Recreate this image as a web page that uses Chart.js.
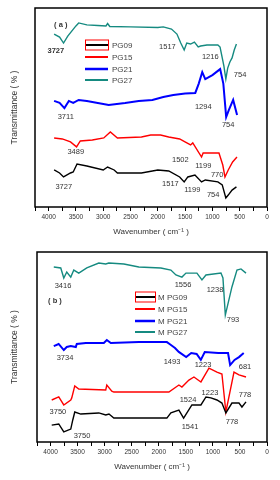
<!DOCTYPE html>
<html>
<head>
<meta charset="utf-8">
<script src="https://cdn.jsdelivr.net/npm/chart.js@4/dist/chart.umd.min.js"></script>
<style>
  body { margin: 0; background: #fff; width: 280px; height: 480px; overflow: hidden; }
  canvas { position: absolute; left: 0; }
  #top { top: 0; }
  #bot { top: 240px; }
</style>
</head>
<body>
<canvas id="top" width="280" height="240"></canvas>
<canvas id="bot" width="280" height="240"></canvas>
<script>
// spectra: [wavenumber, transmittance (offset, arbitrary %)]
var PG09 = [[3900,18.6],[3800,17.1],[3727,15.1],[3600,17.1],[3550,17.6],[3480,21.6],[3300,20.6],[3000,18.6],[2920,20.1],[2800,18.6],[2740,17.1],[2300,17.1],[2000,18.6],[1800,18.1],[1600,15.1],[1517,12.6],[1450,15.1],[1320,16.1],[1199,12.6],[1130,13.6],[900,12.6],[820,11.1],[754,4.5],[710,6.0],[640,8.5],[560,10.1]];
var PG15 = [[3900,34.7],[3750,34.2],[3600,32.7],[3489,30.2],[3420,33.2],[3200,33.7],[2990,34.7],[2870,37.7],[2740,34.7],[2300,35.2],[2130,36.2],[1950,36.2],[1800,35.2],[1600,34.2],[1502,32.7],[1400,31.2],[1360,32.2],[1199,25.1],[1170,27.1],[880,27.1],[810,21.1],[770,15.1],[710,18.6],[630,22.6],[550,25.1]];
var PG21 = [[3900,53.3],[3800,52.3],[3711,49.7],[3630,53.3],[3550,52.3],[3450,53.8],[3300,53.3],[3200,52.8],[2900,51.3],[2600,52.3],[2350,53.3],[2100,53.8],[1900,55.3],[1716,56.3],[1500,57.0],[1314,57.3],[1250,62],[1186,67.8],[1131,64.3],[1000,66.3],[858,69.3],[800,62],[748,45.2],[700,48.7],[620,53.8],[548,46.2]];
var PG27 = [[3900,86.9],[3800,85.4],[3727,82.4],[3650,85.9],[3500,91.0],[3450,92.5],[3300,91.5],[3100,91.2],[2950,91.0],[2920,92.2],[2880,90.7],[2500,90.5],[2000,90.2],[1900,90.5],[1750,89.4],[1650,86.9],[1580,82.4],[1517,78.9],[1470,82.4],[1400,81.9],[1330,82.9],[1260,80.4],[1216,80.9],[1100,81.4],[900,81.4],[860,80.4],[790,70.9],[754,64.3],[720,69.8],[680,72.9],[640,74.9],[600,78.9],[560,81.9]];

var MPG09 = [[3978,8.9],[3848,9.5],[3755,5.3],[3626,6.8],[3589,11.6],[3552,15.8],[3441,14.7],[3108,15.3],[2980,14.2],[2920,14.7],[2830,12.6],[1850,12.6],[1776,15.3],[1628,16.8],[1541,12.6],[1388,19.5],[1221,19.5],[1128,23.7],[1036,23.2],[925,22.1],[833,20.5],[760,15.3],[648,20.5],[518,20.5],[463,18.4],[388,21.1]];
var MPG15 = [[3978,22.1],[3848,23.7],[3755,19.5],[3626,22.1],[3608,23.2],[3552,29.5],[3478,27.9],[2980,27.4],[2960,30.0],[2868,26.8],[2830,26.3],[1813,26.3],[1628,30.0],[1572,28.9],[1443,32.6],[1350,34.2],[1221,31.6],[1073,38.9],[925,36.8],[833,35.8],[760,15.8],[610,36.8],[518,35.3],[388,34.2]];
var MPG21 = [[3940,50.5],[3850,51.6],[3755,48.4],[3700,50.0],[3626,50.5],[3533,50.0],[3515,51.6],[3348,52.1],[3015,52.1],[2960,53.7],[2886,52.1],[2368,52.6],[1850,52.6],[1800,51.6],[1700,49.5],[1630,47.4],[1493,44.7],[1400,46.8],[1300,46.3],[1223,43.2],[1150,47.4],[900,46.8],[720,46.8],[681,40.5],[600,43.2],[518,44.7],[430,46.8]];
var MPG27 = [[3940,92.1],[3811,91.6],[3755,86.3],[3700,89.5],[3626,86.8],[3570,90.5],[3478,88.9],[3330,91.6],[3108,94.2],[2980,93.7],[2923,94.2],[2645,93.7],[2368,92.1],[1961,91.6],[1776,90.5],[1683,87.9],[1572,86.8],[1498,88.9],[1295,88.9],[1202,85.3],[1128,87.9],[851,88.9],[814,86.3],[770,66.8],[648,81.6],[555,90.5],[481,91.1],[388,88.9]];

var NAMES_A = ['PG09', 'PG15', 'PG21', 'PG27'];
var NAMES_B = ['M PG09', 'M PG15', 'M PG21', 'M PG27'];

// peak labels: [text, wavenumber, transmittance, bold]
var PEAKS_A = [['( a )',3778,91.5,1],['3727',3869,78.4,1],['1517',1825,80.4],['1216',1040,75.4],['754',493,66.3],
  ['3711',3687,45.2],['1294',1168,50.3],['754',712,41.2],['3489',3504,27.6],['1502',1588,23.6],['1199',1168,20.6],
  ['770',913,16.1],['3727',3723,10.1],['1517',1770,11.6],['1199',1369,8.5],['754',986,6.0]];
var PEAKS_B = [['3416',3770,82.1],['( b )',3918,74.2,1],['1556',1552,82.6],['1238',961,80.0],['793',628,64.2],
  ['3734',3733,44.2],['1493',1755,42.1],['1223',1183,40.5],['681',407,39.5],['3750',3863,15.8],['1524',1460,22.1],
  ['1223',1054,25.8],['778',407,24.7],['778',647,10.5],['1541',1423,7.9],['3750',3419,3.2]];

var COLORS = ['#000000', '#ff0000', '#0000ff', '#158a80'];
var WIDTHS = [1.4, 1.4, 2, 1.4];

function pts(arr) {
  return arr.map(function (p) { return {x: p[0], y: p[1]}; });
}

var overlay = {
  id: 'overlay',
  afterDraw: function (chart) {
    var ctx = chart.ctx, a = chart.chartArea;
    var xs = chart.scales.x, ys = chart.scales.y;
    var o = chart.options.plugins.overlay;
    ctx.save();
    // frame
    ctx.strokeStyle = '#000';
    ctx.lineWidth = 1.5;
    ctx.strokeRect(a.left, a.top, a.right - a.left, a.bottom - a.top);
    // peak labels
    ctx.fillStyle = '#333';
    ctx.textAlign = 'center';
    ctx.textBaseline = 'middle';
    o.peaks.forEach(function (p) {
      ctx.font = (p[3] ? 'bold ' : '') + '7.5px "Liberation Sans", Arial, sans-serif';
      ctx.fillText(p[0], xs.getPixelForValue(p[1]), ys.getPixelForValue(p[2]));
    });
    // legend
    var L = o.legend;
    ctx.textAlign = 'left';
    ctx.font = '8px "Liberation Sans", Arial, sans-serif';
    L.ys.forEach(function (y, i) {
      ctx.strokeStyle = COLORS[i];
      ctx.lineWidth = i === 2 ? 2.5 : 2;
      ctx.beginPath();
      ctx.moveTo(L.x0, y);
      ctx.lineTo(L.x1, y);
      ctx.stroke();
      ctx.fillStyle = '#444';
      ctx.fillText(L.names[i], L.tx, y + 0.5);
    });
    ctx.strokeStyle = '#ff0000';
    ctx.lineWidth = 1;
    ctx.strokeRect(L.x0 + 0.5, L.ys[0] - 5, L.x1 - L.x0, 10);
    ctx.restore();
  }
};

function makeChart(id, series, peaks, legend, pad) {
  return new Chart(document.getElementById(id), {
    type: 'line',
    data: {
      datasets: series.map(function (s, i) {
        return {
          data: pts(s), borderColor: COLORS[i], borderWidth: WIDTHS[i],
          pointRadius: 0, tension: 0, fill: false
        };
      })
    },
    options: {
      responsive: false,
      animation: false,
      layout: { padding: pad },
      plugins: {
        legend: { display: false },
        tooltip: { enabled: false },
        overlay: { peaks: peaks, legend: legend }
      },
      scales: {
        x: {
          type: 'linear', min: 0, max: 4250, reverse: true,
          afterBuildTicks: function (s) {
            s.ticks = s.ticks.filter(function (t) { return t.value % 250 === 0; });
          },
          afterFit: function (s) { s.height = 33; },
          ticks: {
            stepSize: 250, autoSkip: false, maxRotation: 0, padding: 2,
            color: '#333', font: { size: 6.5, family: '"Liberation Sans", Arial' },
            callback: function (v) { return v % 500 === 0 ? String(v) : ''; }
          },
          grid: { drawOnChartArea: false, drawTicks: true, tickLength: 4, color: '#000' },
          border: { display: false },
          title: {
            display: true, text: 'Wavenumber ( cm\u207B\u00B9 )', color: '#333',
            font: { size: 8, family: '"Liberation Sans", Arial' }, padding: { top: 2, bottom: 3 }
          }
        },
        y: {
          min: 0, max: 100,
          afterFit: function (s) { s.width = pad.ax; },
          ticks: { display: false },
          grid: { display: false },
          border: { display: false },
          title: {
            display: true, text: 'Transmittance ( % )', color: '#333',
            font: { size: 8.5, family: '"Liberation Sans", Arial' }, padding: { top: 10 }
          }
        }
      }
    },
    plugins: [overlay]
  });
}

makeChart('top', [PG09, PG15, PG21, PG27], PEAKS_A,
  { x0: 85, x1: 108, tx: 112, ys: [45, 57, 69, 80], names: NAMES_A },
  { left: 0, right: 13, top: 8, bottom: 0, ax: 35 });

makeChart('bot', [MPG09, MPG15, MPG21, MPG27], PEAKS_B,
  { x0: 135, x1: 155, tx: 158, ys: [57, 69, 81, 92], names: NAMES_B },
  { left: 0, right: 13, top: 12, bottom: 5, ax: 37 });
</script>
</body>
</html>
